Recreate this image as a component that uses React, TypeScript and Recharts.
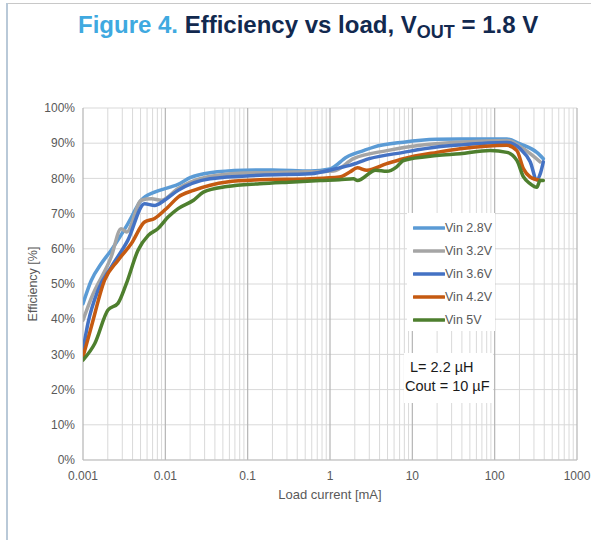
import { LineChart, Line, XAxis, YAxis, CartesianGrid, ReferenceLine, Legend } from 'recharts';

// axis ticks
const xTicks = [0.001, 0.01, 0.1, 1, 10, 100, 1000];
const yTicks = [0, 10, 20, 30, 40, 50, 60, 70, 80, 90, 100];

// Vin 2.8V
const load28 = [0.001, 0.00126, 0.00167, 0.0022, 0.0035, 0.0051, 0.0074, 0.0114, 0.0143, 0.02, 0.035, 0.09, 0.2, 0.58, 1.0, 1.6, 2.55, 3.4, 7.8, 20, 38, 141, 204, 325, 390];
const eff28 = [44.4, 51, 55.8, 59.6, 67.1, 73.8, 76.1, 77.5, 78.3, 80.2, 81.6, 82.3, 82.4, 82.1, 82.7, 86.1, 87.9, 88.9, 90.3, 91.1, 91.2, 91.2, 89.8, 87.4, 85.6];

// Vin 3.2V
const load32 = [0.001, 0.00126, 0.0022, 0.0029, 0.0034, 0.0051, 0.0068, 0.0089, 0.0143, 0.0264, 0.089, 0.36, 1.1, 1.93, 4.9, 12.4, 38, 141, 224, 357];
const eff32 = [39.7, 46, 57.7, 65.7, 64.8, 73.8, 74.2, 73.8, 77.1, 79.9, 81.5, 81.8, 82.1, 85.6, 87.9, 89.4, 90.3, 90.8, 88.4, 84.7];

// Vin 3.6V
const load36 = [0.001, 0.00115, 0.00152, 0.0022, 0.0035, 0.0056, 0.0074, 0.0098, 0.0143, 0.035, 0.14, 0.575, 1.3, 1.74, 3.0, 7.8, 19.8, 38, 141, 204, 270, 325, 360, 390];
const eff36 = [31.2, 38.9, 48.2, 54.8, 62.4, 72.8, 72.3, 73.8, 76.6, 79.9, 80.9, 81.3, 83, 83.7, 85.6, 87.4, 88.9, 89.5, 90.2, 88.4, 84.7, 79.6, 81.5, 84.7];

// Vin 4.2V
const load42 = [0.001, 0.00126, 0.00183, 0.00266, 0.00387, 0.0056, 0.0074, 0.0108, 0.0143, 0.022, 0.056, 0.14, 0.58, 1.3, 1.74, 2.15, 2.8, 4.9, 7.8, 19.8, 38, 141, 186, 224, 270, 357];
const eff42 = [29.3, 37.8, 51.1, 56.7, 61.5, 67.6, 68.6, 71.9, 74.7, 76.6, 79, 79.6, 79.9, 80.4, 81.8, 83, 82.3, 84.2, 85.6, 87.4, 88.4, 89.4, 87.9, 82.7, 80.4, 79.4];

// Vin 5V
const load50 = [0.001, 0.00139, 0.00201, 0.00266, 0.00336, 0.00466, 0.0062, 0.0081, 0.0108, 0.0143, 0.022, 0.029, 0.056, 0.14, 0.36, 0.76, 1.3, 1.93, 2.15, 3.6, 4.9, 6.4, 7.8, 19.8, 38, 88, 141, 186, 224, 270, 325, 357, 390];
const eff50 = [28.4, 33.1, 42.6, 44.5, 50.1, 59.6, 63.8, 65.7, 69, 71.4, 73.8, 76.1, 77.7, 78.5, 79, 79.4, 79.6, 79.9, 79.4, 82.3, 82, 83.2, 85.1, 86.5, 87, 87.9, 87.4, 85.1, 80.4, 78.5, 77.5, 79.4, 79.4];

const seriesNames = ['Vin 2.8V', 'Vin 3.2V', 'Vin 3.6V', 'Vin 4.2V', 'Vin 5V'];
const seriesColors = ['#5B9BD5', '#A5A5A5', '#4472C4', '#C55A11', '#4E7F2E'];

const toPoints = (load: number[], eff: number[]) => load.map((x, i) => ({ x, y: eff[i] }));

const series = [
  toPoints(load28, eff28),
  toPoints(load32, eff32),
  toPoints(load36, eff36),
  toPoints(load42, eff42),
  toPoints(load50, eff50),
];

// log grid: minor lines 2..9 inside each decade
const minorX = xTicks.slice(0, -1).flatMap(d => [2, 3, 4, 5, 6, 7, 8, 9].map(k => Number((d * k).toPrecision(3))));

const FONT = '"Liberation Sans", Arial, sans-serif';

function LegendBox({ payload }: any) {
  return (
    <div style={{ background: '#fff', width: 88, height: 118, paddingTop: 3, boxSizing: 'border-box' }}>
      {(payload || []).map((p: any) => (
        <div key={p.value} style={{ display: 'flex', alignItems: 'center', height: 23, paddingLeft: 6 }}>
          <svg width={32} height={6} style={{ display: 'block' }}>
            <line x1={1} y1={3} x2={31} y2={3} stroke={p.color} strokeWidth={3.5} strokeLinecap="round" />
          </svg>
          <span style={{ fontSize: 12.5, color: '#595959', fontFamily: FONT }}>{p.value}</span>
        </div>
      ))}
    </div>
  );
}

export default function App() {
  return (
    <div style={{ position: 'absolute', left: 0, top: 0, width: 591, height: 540, background: '#fff', fontFamily: FONT }}>
      <div style={{ position: 'absolute', left: 7, top: 3, width: 584, height: 1, background: '#c8c8c8' }} />
      <div style={{ position: 'absolute', left: 6, top: 3, width: 1.5, height: 537, background: '#b9c9d8' }} />
      <div style={{ position: 'absolute', left: 78, top: 10, whiteSpace: 'nowrap', fontWeight: 'bold', fontSize: 24, lineHeight: '30px' }}>
        <span style={{ color: '#3FA9E0' }}>Figure 4. </span>
        <span style={{ color: '#12294F' }}>
          Efficiency vs load, V<span style={{ fontSize: 18, position: 'relative', top: 5 }}>OUT</span> = 1.8 V
        </span>
      </div>
      <LineChart width={591} height={540} margin={{ top: 108, right: 14, bottom: 35, left: 23 }} style={{ position: 'absolute', left: 0, top: 0 }}>
        <CartesianGrid vertical={false} stroke="#d9d9d9" strokeWidth={1} />
        {minorX.map(v => (
          <ReferenceLine key={'m' + v} x={v} stroke="#d9d9d9" strokeWidth={1} />
        ))}
        {xTicks.map(v => (
          <ReferenceLine key={'M' + v} x={v} stroke="#b4b4b4" strokeWidth={1.2} />
        ))}
        <XAxis
          dataKey="x"
          type="number"
          scale="log"
          domain={[0.001, 1000]}
          allowDataOverflow
          ticks={xTicks}
          tickFormatter={v => String(v)}
          tickLine={false}
          axisLine={{ stroke: '#bfbfbf' }}
          tickMargin={5}
          height={45}
          tick={{ fontSize: 12, fill: '#595959', fontFamily: FONT }}
          label={{ value: 'Load current [mA]', position: 'insideBottom', offset: 6, fontSize: 13, fill: '#595959', fontFamily: FONT }}
        />
        <YAxis
          type="number"
          domain={[0, 100]}
          ticks={yTicks}
          tickFormatter={v => v + '%'}
          tickLine={false}
          axisLine={false}
          width={60}
          tick={{ fontSize: 12, fill: '#595959', fontFamily: FONT }}
          label={{ value: 'Efficiency [%]', angle: -90, position: 'insideLeft', offset: 10, style: { textAnchor: 'middle' }, fontSize: 12.5, fill: '#595959', fontFamily: FONT }}
        />
        {series.map((d, i) => (
          <Line
            key={seriesNames[i]}
            data={d}
            dataKey="y"
            name={seriesNames[i]}
            type="monotone"
            stroke={seriesColors[i]}
            strokeWidth={3.5}
            strokeLinecap="round"
            strokeLinejoin="round"
            dot={false}
            activeDot={false}
            isAnimationActive={false}
          />
        ))}
        <Legend
          layout="vertical"
          align="center"
          verticalAlign="middle"
          content={<LegendBox />}
          wrapperStyle={{ left: 407, top: 213, width: 88, height: 118 }}
        />
      </LineChart>
      <div style={{ position: 'absolute', left: 404, top: 353, width: 89, height: 50, background: '#fff', color: '#1a1a1a', fontSize: 14.5, lineHeight: '19px' }}>
        <div style={{ paddingLeft: 6, paddingTop: 5 }}>L= 2.2 µH</div>
        <div style={{ paddingLeft: 1 }}>Cout = 10 µF</div>
      </div>
    </div>
  );
}
